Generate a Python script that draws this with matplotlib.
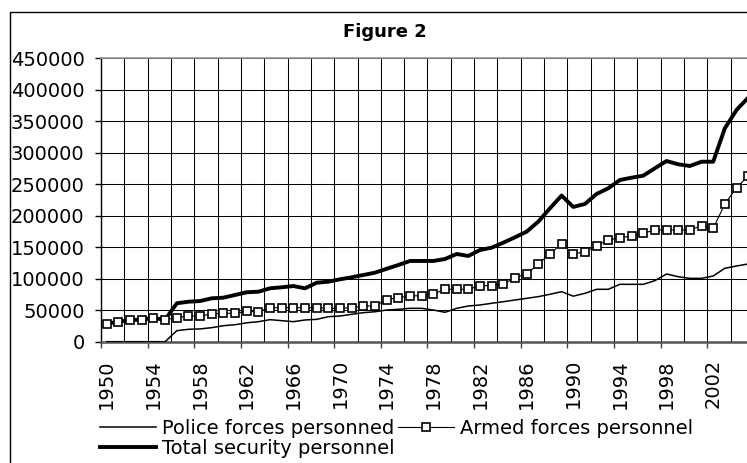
import matplotlib
matplotlib.use("Agg")
import matplotlib.pyplot as plt
from matplotlib.patches import Rectangle

# data
years = list(range(1950, 2006))

police = [0, 0, 0, 0, 0, 0, 17500, 19700, 20300, 22300,
          25400, 27000, 30000, 31800, 35000, 33400, 31800, 34500, 35500, 39700,
          40800, 43500, 46100, 47600, 50300, 51400, 53000, 53000, 50300, 46700,
          53000, 56700, 58300, 61000, 63500, 66200, 68900, 71500, 75300, 79400,
          72300, 76800, 83200, 83200, 91100, 91100, 91100, 96900, 107500, 103200,
          100600, 100600, 104300, 116600, 120200, 123400]

armed = [28500, 31800, 34500, 35000, 37500, 35000, 38100, 40800, 40800, 44000,
         45100, 45100, 48000, 47600, 54000, 54000, 54000, 54000, 54000, 53000,
         53000, 54000, 56700, 56700, 67000, 69900, 72600, 73100, 75800, 83200,
         83200, 83200, 88900, 88900, 91600, 101600, 107500, 123400, 139300, 155500,
         139300, 142900, 152500, 161500, 165200, 167800, 172100, 177400, 177400, 177400,
         177400, 184200, 180000, 218700, 244600, 263100]

total = [28500, 31800, 34500, 35000, 37500, 35000, 61000, 63500, 64600, 68900,
         69900, 74200, 78500, 79400, 84800, 86400, 88400, 84800, 93700, 95300,
         99100, 102300, 105900, 109600, 115800, 121800, 128200, 128200, 128200, 131300,
         139300, 136100, 145600, 149300, 157200, 165800, 174700, 190600, 211800, 232000,
         214000, 218700, 234600, 243600, 256800, 260400, 263600, 275400, 286900, 281700,
         279000, 285800, 285800, 338900, 367900, 387500]

label_years = list(range(1950, 2003, 4))
y_ticks = list(range(0, 450001, 50000))

plt.rcParams["font.family"] = "DejaVu Sans"

W, H = 747, 463
fig = plt.figure(figsize=(W / 100, H / 100), dpi=100)
fig.patch.set_facecolor("white")

# chart border (cropped on the right and bottom)
fig.patches.append(Rectangle((10 / W, -0.2), 2.0, (H - 12) / H + 0.2,
                             transform=fig.transFigure, fill=False,
                             edgecolor="black", linewidth=1.0))

ax = fig.add_axes([101 / W, (H - 341.7) / H, 653 / W, 283.4 / H])

ax.plot(years, police, color="black", linewidth=1.1, zorder=3)
ax.plot(years, total, color="black", linewidth=2.8, solid_joinstyle="round", zorder=4)
ax.plot(years, armed, color="black", linewidth=0.8, marker="s", markersize=5.2,
        markerfacecolor="white", markeredgecolor="black", markeredgewidth=1.2, zorder=5)

ax.set_xlim(years[0] - 0.5, years[-1] + 0.5)
ax.set_ylim(0, 450000)

# gridlines every 2 years on category boundaries, tick marks every 4
ax.set_xticks([y - 0.5 for y in range(1950, 2007, 2)])
ax.set_xticklabels([])
for i, t in enumerate(ax.xaxis.get_major_ticks()):
    if i % 2:
        t.tick1line.set_visible(False)
ax.set_xticks(label_years, minor=True)
ax.set_xticklabels([str(y) for y in label_years], minor=True, rotation=90, fontsize=14)
ax.tick_params(axis="x", which="major", length=4.3, width=1, color="#444444")
ax.tick_params(axis="x", which="minor", length=0, pad=12.5)

ax.set_yticks(y_ticks)
ax.set_yticklabels([str(v) for v in y_ticks], fontsize=14)
ax.tick_params(axis="y", length=4.3, width=1, pad=7.5)

ax.grid(True, which="major", color="black", linewidth=0.75)
ax.set_axisbelow(True)

ax.spines["right"].set_visible(False)
ax.spines["top"].set_color("#999999")
ax.spines["top"].set_linewidth(1.2)
ax.spines["bottom"].set_color("#555555")
ax.spines["bottom"].set_linewidth(1.8)
ax.spines["left"].set_linewidth(1.0)

fig.text(385 / W, (H - 32) / H, "Figure 2", ha="center", va="center",
         fontsize=13, fontweight="bold")

# legend: police + armed on first row, total below
h_police, = ax.plot([], [], color="black", linewidth=1.1)
h_armed, = ax.plot([], [], color="black", linewidth=0.8, marker="s", markersize=5.2,
                   markerfacecolor="white", markeredgecolor="black", markeredgewidth=1.2)
h_total, = ax.plot([], [], color="black", linewidth=2.8)
fig.legend([h_police, h_total, h_armed],
           ["Police forces personned", "Total security personnel", "Armed forces personnel"],
           ncol=2, loc="upper left", bbox_to_anchor=(100 / W, (H - 419) / H),
           frameon=False, fontsize=14, handlelength=2.9, handletextpad=0.3,
           columnspacing=0.15, labelspacing=0.05, borderpad=0, borderaxespad=0)

fig.savefig("out.png", dpi=100, facecolor="white")
